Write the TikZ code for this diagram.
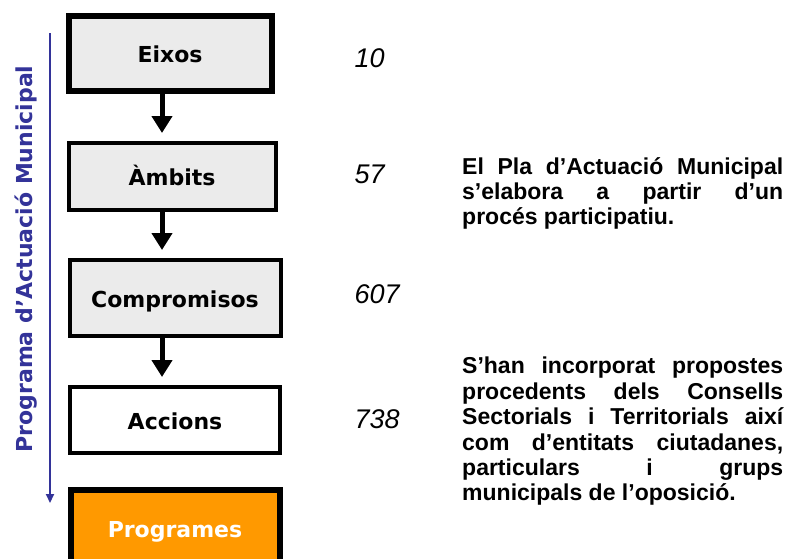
\documentclass[tikz,border=0pt]{standalone}
\usepackage{fontspec}
\setmainfont{Liberation Sans}
\newfontfamily\boxfont{DejaVu Sans}
\usetikzlibrary{positioning,arrows.meta}
\definecolor{plablue}{HTML}{333399}
\definecolor{plagray}{HTML}{EBEBEB}
\definecolor{plaorange}{HTML}{FF9900}
\tolerance=10000
\hbadness=10000

\begin{document}
\begin{tikzpicture}[x=1pt,y=-1pt,node distance=47pt,
  nivell/.style={rectangle,draw,line width=4pt,fill=plagray,minimum width=207pt,minimum height=67pt,
    text height=18pt,text depth=0pt,font=\boxfont\bfseries\fontsize{22}{26}\selectfont},
  xifra/.style={anchor=base west,font=\itshape\fontsize{27}{30}\selectfont},
  nota/.style={anchor=north west,text width=321pt,inner sep=0pt,align=justify,
    font=\bfseries\fontsize{23}{25.4}\selectfont},
  baixa/.style={-{Triangle[length=17pt,width=20pt]},line width=5pt,shorten >=8pt}]
\useasboundingbox (0,0) rectangle (789,558);

\node[nivell,line width=6pt,minimum width=203pt,minimum height=75pt] (eix) at (170,53.5) {Eixos};
\node[nivell,below=of eix,xshift=2pt] (amb) {Àmbits};
\node[nivell,below=46pt of amb,xshift=3pt,minimum width=211pt,minimum height=76pt] (com) {Compromisos};
\node[nivell,below=of com,fill=white,minimum width=210pt,minimum height=66pt] (acc) {Accions};
\node[nivell,below=32pt of acc,line width=6pt,fill=plaorange,text=white,minimum width=209pt,minimum height=76pt] (prg) {Programes};

% arrows between the levels
\coordinate (fil) at (162,0);
\draw[baixa] (eix.south -| fil) -- (amb.north -| fil);
\draw[baixa] (amb.south -| fil) -- (com.north -| fil);
\draw[baixa] (com.south -| fil) -- (acc.north -| fil);

% side label
\coordinate (pam0) at (50,33);
\coordinate (pam1) at (50,503);
\draw[plablue,line width=2pt,-{Triangle[length=9pt,width=8pt]}] (pam0) -- (pam1);
\node[rotate=90,anchor=base,text=plablue,font=\boxfont\bfseries\fontsize{22}{26}\selectfont] (pam) at (32,259) {Programa d’Actuació Municipal};

\node[xifra] (n1) at (351,67) {10};
\node[xifra] (n2) at (351,183) {57};
\node[xifra] (n3) at (351,303) {607};
\node[xifra] (n4) at (351,428) {738};

\node[nota] (t1) at (462,157) {El Pla d’Actuació Municipal\linebreak s’elabora a partir d’un\linebreak procés participatiu.};
\node[nota] (t2) at (462,357) {S’han incorporat propostes\linebreak procedents dels Consells\linebreak Sectorials i Territorials així\linebreak com d’entitats ciutadanes,\linebreak particulars i grups\linebreak municipals de l’oposició.};

\end{tikzpicture}
\end{document}
